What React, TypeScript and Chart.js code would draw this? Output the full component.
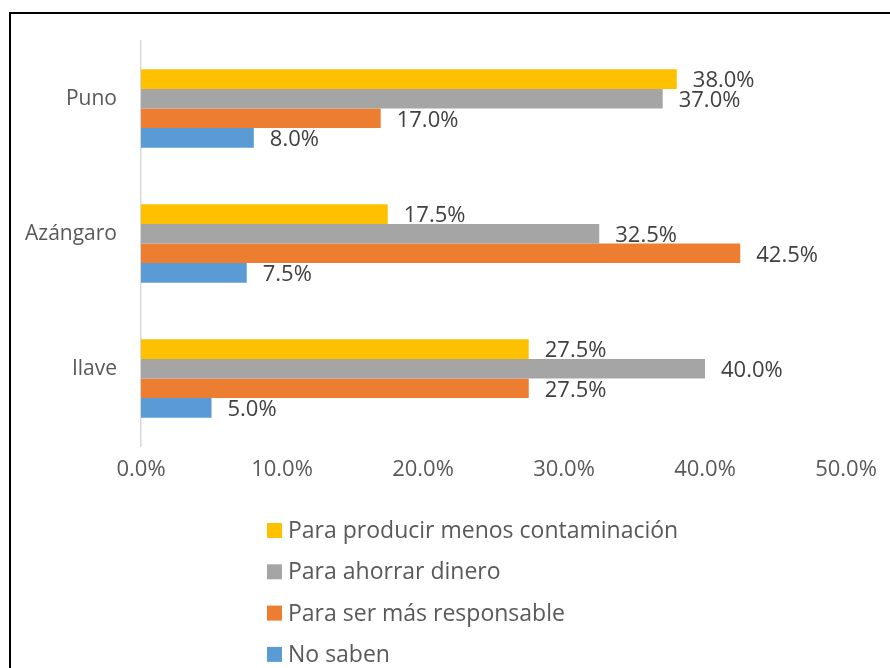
import React, { useEffect, useRef } from "react";
import { Chart, registerables } from "chart.js";

Chart.register(...registerables);

const categories = ["Puno", "Azángaro", "Ilave"];
const seriesNames = [
  "Para producir menos contaminación",
  "Para ahorrar dinero",
  "Para ser más responsable",
  "No saben",
];
const menosContaminacion = [38.0, 17.5, 27.5];
const ahorrarDinero = [37.0, 32.5, 40.0];
const masResponsable = [17.0, 42.5, 27.5];
const noSaben = [8.0, 7.5, 5.0];
const seriesColors = ["#FFC000", "#A5A5A5", "#ED7D31", "#5B9BD5"];
const xTicks = [0, 10, 20, 30, 40, 50];

const FONT = "'Open Sans', 'Noto Sans', sans-serif";

const dataLabelPlugin = {
  id: "dataLabels",
  afterDatasetsDraw(chart: any) {
    const ctx = chart.ctx;
    ctx.save();
    ctx.font = `22px ${FONT}`;
    ctx.fillStyle = "#404040";
    ctx.textAlign = "left";
    ctx.textBaseline = "middle";
    chart.data.datasets.forEach((ds: any, di: number) => {
      const meta = chart.getDatasetMeta(di);
      meta.data.forEach((bar: any, i: number) => {
        const v = ds.data[i];
        ctx.fillText(v.toFixed(1) + "%", bar.x + 16, bar.y + 2);
      });
    });
    ctx.restore();
  },
};

const legendPlugin = {
  id: "vertLegend",
  afterDraw(chart: any) {
    const ctx = chart.ctx;
    const x0 = 267;
    const y0 = 530.5;
    const step = 41.3;
    ctx.save();
    ctx.font = `23px ${FONT}`;
    ctx.textAlign = "left";
    ctx.textBaseline = "middle";
    chart.data.datasets.forEach((ds: any, i: number) => {
      const cy = y0 + i * step;
      ctx.fillStyle = ds.backgroundColor;
      ctx.fillRect(x0, cy - 7.5, 15, 15);
      ctx.fillStyle = "#595959";
      ctx.fillText(ds.label, x0 + 21, cy + 1);
    });
    ctx.restore();
  },
};

export default function App() {
  const ref = useRef<HTMLCanvasElement>(null);
  useEffect(() => {
    if (!ref.current) return;
    const values = [menosContaminacion, ahorrarDinero, masResponsable, noSaben];
    const chart = new Chart(ref.current, {
      type: "bar",
      data: {
        labels: categories,
        datasets: seriesNames.map((name, i) => ({
          label: name,
          data: values[i],
          backgroundColor: seriesColors[i],
          borderWidth: 0,
          categoryPercentage: 0.58,
          barPercentage: 1,
        })),
      },
      options: {
        indexAxis: "y",
        animation: false,
        responsive: false,
        maintainAspectRatio: false,
        layout: { padding: { left: 0, top: 41, right: 44, bottom: 0 } },
        plugins: {
          legend: { display: false },
          tooltip: { enabled: false },
        },
        scales: {
          y: {
            grid: { display: false, drawTicks: false },
            border: { display: true, color: "#D9D9D9", width: 1.5 },
            ticks: {
              color: "#595959",
              font: { family: FONT, size: 21 },
              padding: 24,
              labelOffset: -9,
            },
            afterFit: (scale: any) => {
              scale.width = 141;
            },
          },
          x: {
            min: 0,
            max: 50,
            grid: { display: false, drawTicks: false },
            border: { display: false },
            afterBuildTicks: (scale: any) => {
              scale.ticks = xTicks.map((v) => ({ value: v }));
            },
            ticks: {
              color: "#595959",
              font: { family: FONT, size: 22 },
              padding: 11,
              maxRotation: 0,
              callback: (v: any) => Number(v).toFixed(1) + "%",
            },
            afterFit: (scale: any) => {
              scale.height = 222;
            },
          },
        },
      },
      plugins: [dataLabelPlugin, legendPlugin],
    } as any);
    return () => chart.destroy();
  }, []);

  return (
    <div style={{ position: "fixed", left: 0, top: 0, width: 890, height: 668, background: "#fff", overflow: "hidden" }}>
      <div
        style={{
          position: "absolute",
          left: 9,
          top: 12,
          width: 881,
          height: 656,
          borderLeft: "2px solid #000",
          borderTop: "2px solid #000",
          boxSizing: "border-box",
        }}
      />
      <canvas ref={ref} width={890} height={668} style={{ position: "absolute", left: 0, top: 0, width: 890, height: 668 }} />
    </div>
  );
}
